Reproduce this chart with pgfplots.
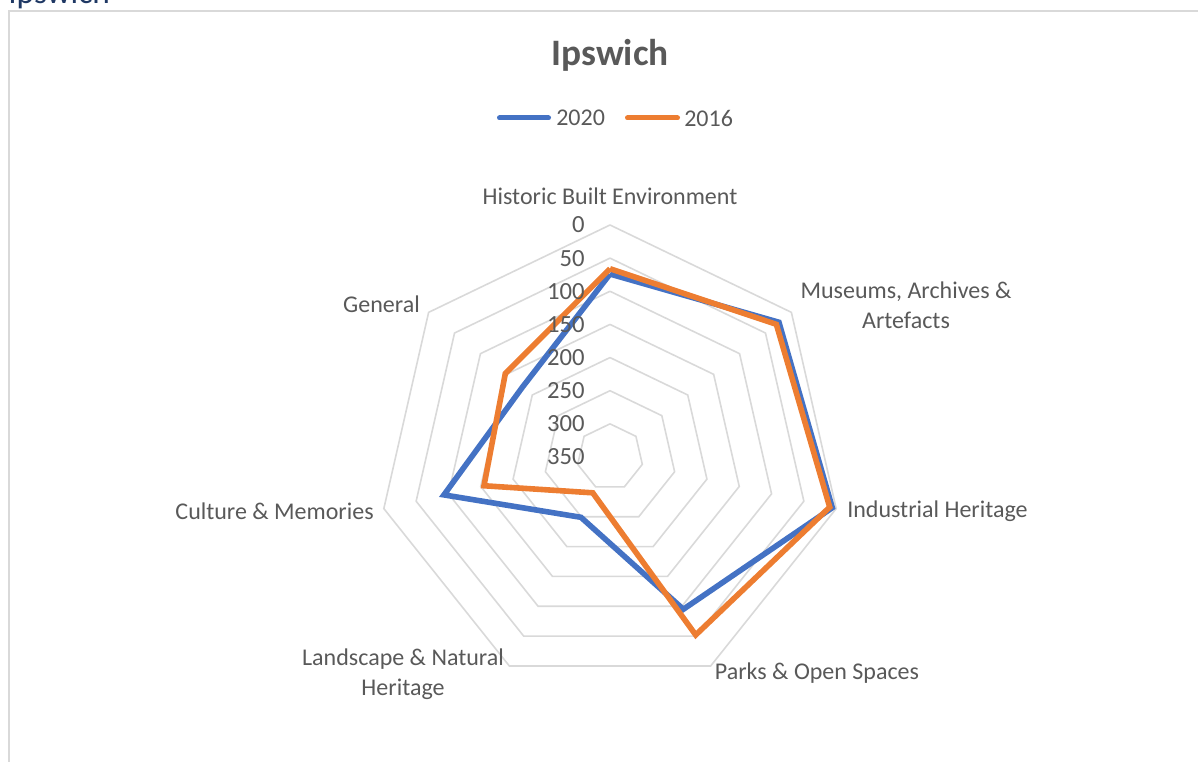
\documentclass[border=0pt]{standalone}
\usepackage{pgfplots}
\pgfplotsset{compat=1.18}
\usepackage{pgfplotstable}
\usepackage{fontspec}
\setmainfont{Carlito}
\definecolor{c2020}{RGB}{68,114,196}
\definecolor{c2016}{RGB}{237,125,49}
\definecolor{gridc}{RGB}{217,217,217}
\definecolor{txt}{RGB}{89,89,89}
\definecolor{head}{RGB}{31,56,100}

% angle (deg), values (reversed radial axis: 0 outside, 350 centre)
\pgfplotstableread{
ang v2020 v2016
90 74 66
38.5714 24 29
-12.8571 6 10
-64.2857 95 52
-115.7143 249 290
-167.1429 93 155
-218.5714 181 148
90 74 66
}\datatab

\begin{document}
\begin{tikzpicture}
\useasboundingbox (0,0) rectangle (898.5pt,571.5pt);
\clip (0,0) rectangle (898.5pt,571.5pt);
\begin{axis}[
  at={(0pt,0pt)}, anchor=south west,
  x=0.75pt, y=0.75pt,
  xmin=-610, xmax=588, ymin=-305, ymax=457,
  hide axis, clip=false,
]
% grid rings
\pgfplotsinvokeforeach{0,50,100,150,200,250,300}{
  \addplot[gridc, line width=1.2pt, forget plot] table[
    x expr={(350-#1)*0.662857*cos(\thisrow{ang})},
    y expr={(350-#1)*0.662857*sin(\thisrow{ang})}]{\datatab};
}
% series
\addplot[c2020, line width=4.2pt, line join=miter] table[
  x expr={(350-\thisrow{v2020})*0.662857*cos(\thisrow{ang})},
  y expr={(350-\thisrow{v2020})*0.662857*sin(\thisrow{ang})}]{\datatab};
\addplot[c2016, line width=4.2pt, line join=miter] table[
  x expr={(350-\thisrow{v2016})*0.662857*cos(\thisrow{ang})},
  y expr={(350-\thisrow{v2016})*0.662857*sin(\thisrow{ang})}]{\datatab};

% value axis labels
\pgfplotsinvokeforeach{0,50,100,150,200,250,300,350}{
  \node[anchor=east, inner sep=0pt, text=txt, font=\fontsize{18.5}{21.6}\selectfont]
    at (axis cs:-25,{(350-#1)*0.662857}) {#1};
}

% category labels
\begin{scope}[every node/.style={text=txt, font=\fontsize{18}{22.5}\selectfont, inner sep=0pt}]
\node[anchor=center] at (axis cs:0,261) {Historic Built Environment};
\node[anchor=center, align=center] at (axis cs:296,152) {Museums, Archives \&\\Artefacts};
\node[anchor=west] at (axis cs:237,-54) {Industrial Heritage};
\node[anchor=center] at (axis cs:207,-216) {Parks \& Open Spaces};
\node[anchor=center, align=center] at (axis cs:-207,-217.5) {Landscape \& Natural\\Heritage};
\node[anchor=east] at (axis cs:-236,-54) {Culture \& Memories};
\node[anchor=east] at (axis cs:-190,153) {General};
% title
\node[anchor=center, font=\fontsize{28}{33}\selectfont\bfseries] at (axis cs:0,402) {Ipswich};
% legend
\draw[c2020, line width=3.75pt, line cap=round] (axis cs:-110.5,339) -- (axis cs:-61.5,339);
\node[anchor=west] at (axis cs:-54,339) {2020};
\draw[c2016, line width=3.75pt, line cap=round] (axis cs:17.5,339) -- (axis cs:67.5,339);
\node[anchor=west] at (axis cs:74,339) {2016};
% cropped heading (cut off at the top edge, as in the reference)
\node[anchor=base west, text=head, font=\fontsize{25}{30}\selectfont] at (axis cs:-602,453) {Ipswich};
\end{scope}
% chart border
\draw[gridc, line width=1.5pt] (axis cs:-601,-310) -- (axis cs:-601,445.5) -- (axis cs:600,445.5);
\end{axis}
\end{tikzpicture}
\end{document}
